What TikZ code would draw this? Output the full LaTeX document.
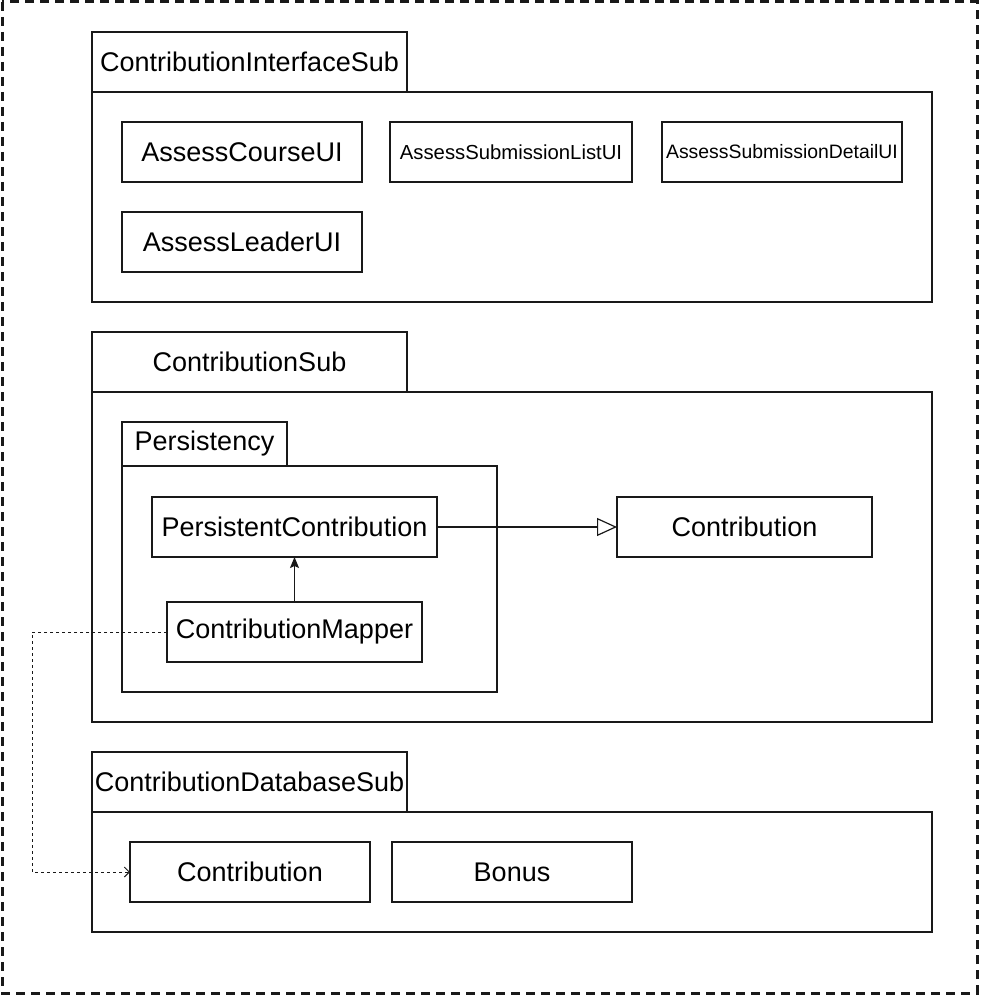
\documentclass[tikz,border=0pt]{standalone}
\usepackage{fontspec}
\setmainfont{Liberation Sans}
\usetikzlibrary{arrows.meta}

\begin{document}
\begin{tikzpicture}[x=1pt,y=-1pt,line width=1.2pt,draw=black!90]
	\def \tabone{62}
	\def \tabtwo{362}
	\def \tabthree{782}
	\def \rowone{152}
	\def \rowtwo{242}
	\def \classrow{527}
	\def \maprow{632}
	\def \dbrow{872}

	\tikzstyle{c-node}=[rectangle,draw,inner sep=0pt,outer sep=0pt,minimum width=240pt,minimum height=60pt,font=\fontsize{27pt}{32pt}\selectfont]
	\tikzstyle{tab-node}=[rectangle,draw,inner sep=0pt,outer sep=0pt,minimum width=315pt,minimum height=60pt,font=\fontsize{27pt}{32pt}\selectfont]
	\tikzstyle{pkg-node}=[rectangle,draw,inner sep=0pt,outer sep=0pt,minimum width=840pt]
	\useasboundingbox (0,0) rectangle (980,995);
	\draw[line width=3pt,dash pattern=on 9pt off 6pt] (2,2) rectangle (977,993);

	% interface package
	\node[tab-node] (ui-tab) at (249.5,\tabone) {ContributionInterfaceSub};
	\node[pkg-node,minimum height=210pt] (ui-pkg) at (512,197) {};
	\node[c-node] (course) at (242,\rowone) {AssessCourseUI};
	\node[c-node,minimum width=242pt,font=\fontsize{20.3pt}{24pt}\selectfont] (sublist) at (511,\rowone) {AssessSubmissionListUI};
	\node[c-node,font=\fontsize{19.4pt}{23pt}\selectfont] (subdetail) at (782,\rowone) {AssessSubmissionDetailUI};
	\node[c-node] (leader) at (242,\rowtwo) {AssessLeaderUI};

	% contribution package
	\node[tab-node] (con-tab) at (249.5,\tabtwo) {ContributionSub};
	\node[pkg-node,minimum height=330pt] (con-pkg) at (512,557) {};
	\node[tab-node,minimum width=165pt,minimum height=44pt] (pers-tab) at (204.5,444) {Persistency};
	\node[pkg-node,minimum width=375pt,minimum height=226pt] (pers-pkg) at (309.5,579) {};
	\node[c-node,minimum width=285pt] (pcontrib) at (294.5,\classrow) {PersistentContribution};
	\node[c-node,minimum width=255pt] (contrib) at (744.5,\classrow) {Contribution};
	\node[c-node,minimum width=255pt] (mapper) at (294.5,\maprow) {ContributionMapper};

	% database package
	\node[tab-node] (db-tab) at (249.5,\tabthree) {ContributionDatabaseSub};
	\node[pkg-node,minimum height=120pt] (db-pkg) at (512,\dbrow) {};
	\node[c-node] (dbcontrib) at (250,\dbrow) {Contribution};
	\node[c-node] (bonus) at (512,\dbrow) {Bonus};

	\coordinate (lane) at (32,\maprow);

	\draw[-{Triangle[open,length=20pt,width=18pt]}] (pcontrib) -- (contrib);
	\draw[-{Stealth[length=11pt,width=9pt,inset=2pt]}] (mapper) -- (pcontrib);
	\draw[line width=1pt,dash pattern=on 3pt off 3pt,-{Straight Barb[length=5pt,width=10pt]}]
		(mapper.west) -- (lane) |- (dbcontrib.west);
\end{tikzpicture}
\end{document}
